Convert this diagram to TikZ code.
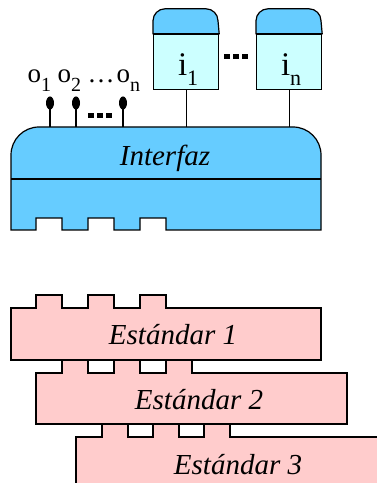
\documentclass[tikz,border=0pt]{standalone}
\usepackage{fontspec}
\setmainfont{Liberation Serif}
\usetikzlibrary{shapes.geometric,calc}

\definecolor{ifblue}{HTML}{66CCFF}
\definecolor{inbody}{HTML}{CCFFFF}
\definecolor{stdpink}{HTML}{FFCCCC}
\newcommand\lowidx[3]{\raisebox{-#1}{\fontsize{#2}{#2}\selectfont#3}}

\begin{document}
\begin{tikzpicture}[x=1pt,y=1pt,line width=1.2pt,
    big/.style={font=\fontsize{29}{32}\selectfont\itshape,anchor=base},
    olab/.style={font=\fontsize{27}{28}\selectfont,anchor=base west,inner sep=0pt},
    pin/.style={ellipse,fill,inner sep=0pt,minimum width=8pt,minimum height=13pt},
    sq/.style={line width=5pt,dash pattern=on 6pt off 3pt}]
    \useasboundingbox (0,0) rectangle (377,483);
    \coordinate (ftop) at (0,356);

    % Interfaz
    \draw[fill=ifblue] (321,253) \foreach \x in {140,88,36}{-- (\x+26,253) -- (\x+26,265) -- (\x,265) -- (\x,253)}
    -- (11,253) -- (11,328) arc(180:90:28) -- (293,356) arc(90:0:28) -- cycle;
    \draw (11,304) -- (321,304);
    \node[big] (interfaz) at (165,317) {Interfaz};

    % entradas i_1 ... i_n
    \foreach \x/\n in {153/1,256/n}{
    \node[draw,fill=inbody,minimum width=65pt,minimum height=55pt,inner sep=0pt,anchor=south west] (box\n) at (\x,393) {};
    \draw[fill=ifblue] (box\n.north west) -- ++(0,13) arc(180:90:12) -- ++(41,0) arc(90:0:12) -- (box\n.north east) -- cycle;
    \node[font=\fontsize{33}{34}\selectfont,anchor=base,inner sep=0pt] (i\n) at ($(box\n.south)+(2,14)$) {i\lowidx{10pt}{22}{\n}};
    \draw (box\n.south) -- (box\n.south |- ftop);
    }
    \draw[sq] (224,426) -- (248,426);

    % salidas o_1 ... o_n
    \foreach \x [count=\k] in {50,76,123}{
    \draw (\x,380) -- (\x,380 |- ftop);
    \node[pin] (o\k) at (\x,380) {};
    }
    \draw[sq] (88,367) -- (112,367);
    \node[olab] (lo1) at (27,400) {o\lowidx{9pt}{20}{1}};
    \node[olab] (lo2) at (57,400) {o\lowidx{9pt}{20}{2}};
    \node[olab] (ldots) at (87,400) {\dots};
    \node[olab] (lon) at (116,400) {o\lowidx{9pt}{20}{n}};

    % estandares
    \begin{scope}
    \clip (0,0) rectangle (377,483);
    \draw[fill=stdpink] (76,-5) -- (76,46) \foreach \x in {102,153,204}{-- (\x,46) -- (\x,59) -- (\x+26,59) -- (\x+26,46)} -- (390,46) -- (390,-5) -- cycle;
    \end{scope}
    \node[big] (std3) at (238,9) {Estándar 3};
    \draw[fill=stdpink] (36,59) -- (36,110) \foreach \x in {62,114,166}{-- (\x,110) -- (\x,123) -- (\x+26,123) -- (\x+26,110)} -- (347,110) -- (347,59) -- cycle;
    \node[big] (std2) at (199,74) {Estándar 2};
    \draw[fill=stdpink] (11,123) -- (11,175) \foreach \x in {36,88,140}{-- (\x,175) -- (\x,188) -- (\x+26,188) -- (\x+26,175)} -- (321,175) -- (321,123) -- cycle;
    \node[big] (std1) at (173,138) {Estándar 1};
\end{tikzpicture}
\end{document}
